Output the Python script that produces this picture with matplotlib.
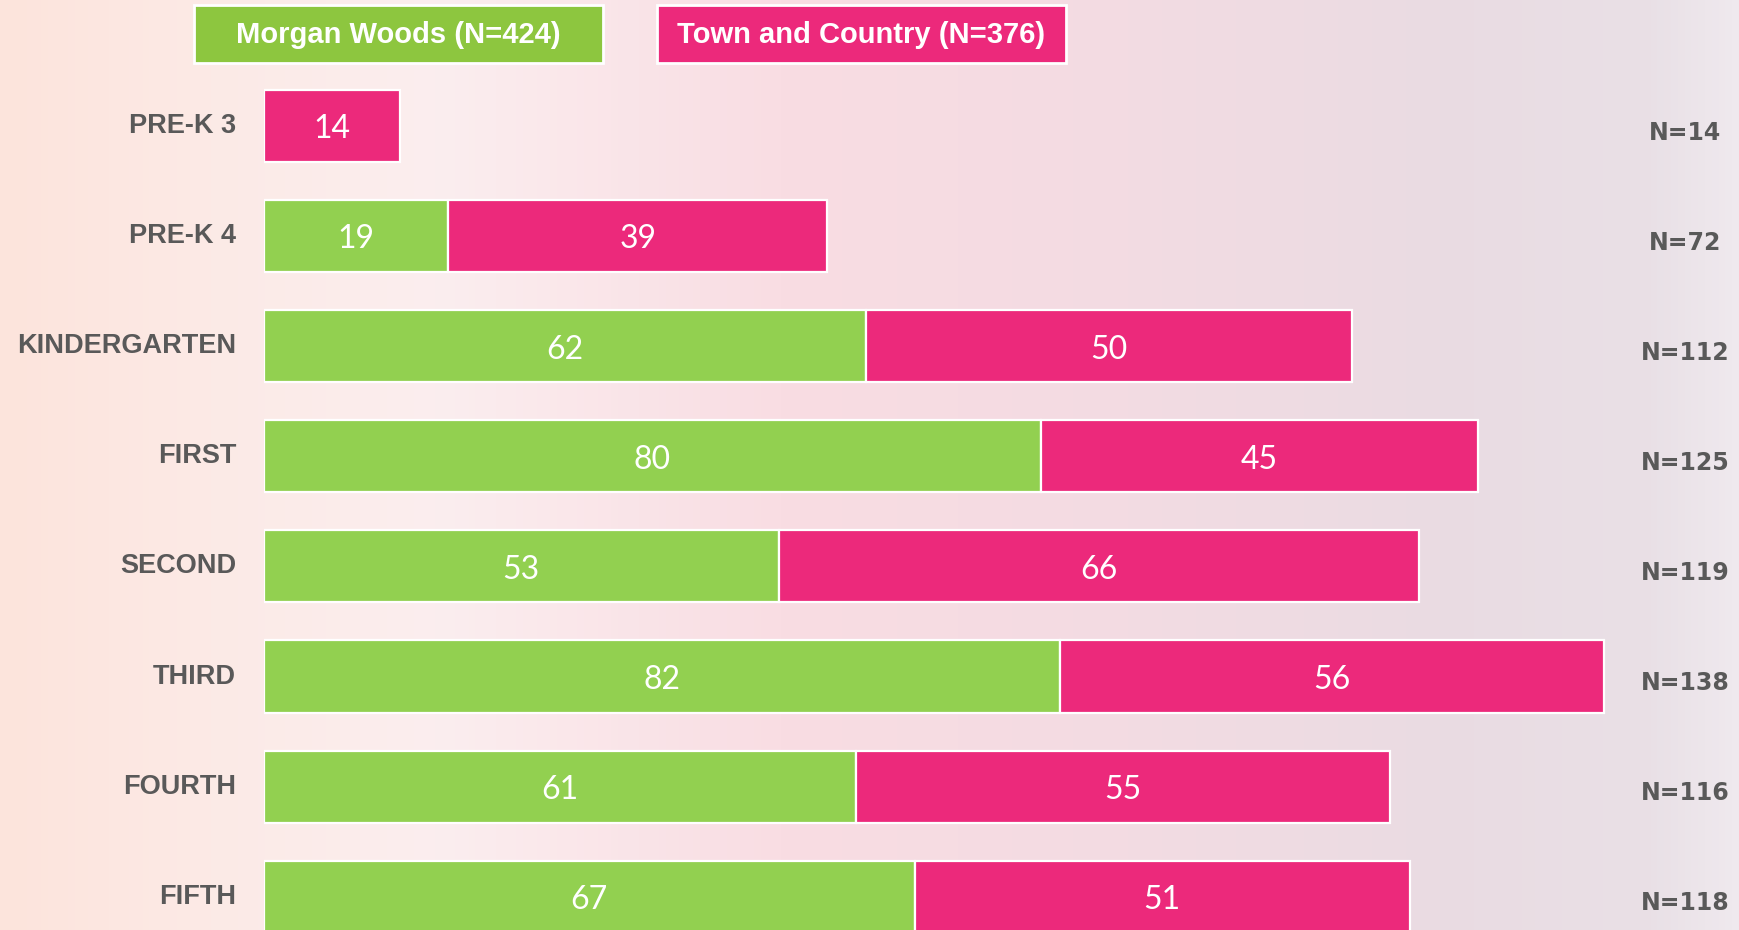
import numpy as np
import matplotlib.pyplot as plt
from matplotlib.patches import Rectangle
from matplotlib.colors import LinearSegmentedColormap

# Enrollment by grade, two schools
grades = ['PRE-K 3', 'PRE-K 4', 'KINDERGARTEN', 'FIRST', 'SECOND', 'THIRD', 'FOURTH', 'FIFTH']
morgan_woods = [0, 19, 62, 80, 53, 82, 61, 67]
town_country = [14, 39, 50, 45, 66, 56, 55, 51]
totals = [14, 72, 112, 125, 119, 138, 116, 118]
legend_labels = ['Morgan Woods (N=424)', 'Town and Country (N=376)']

GREEN = '#92D050'
GREEN_LEG = '#8DC63F'
PINK = '#EC297B'
GRAY = '#595959'
W, H = 1739, 930

label_font = ['Liberation Sans Narrow', 'Liberation Sans', 'DejaVu Sans']
value_font = ['Lato', 'DejaVu Sans']

fig = plt.figure(figsize=(W / 100, H / 100), dpi=100)

# background gradient
bg = fig.add_axes([0, 0, 1, 1])
bg_cmap = LinearSegmentedColormap.from_list('bg', [
    (0.0, '#FCE4DC'), (0.12, '#FCEAE6'), (0.25, '#FBEEEF'), (0.45, '#F9DDE3'),
    (0.65, '#F3DBE2'), (0.85, '#E9DCE3'), (0.95, '#E9E0E6'), (1.0, '#EFE9EE')])
bg.imshow(np.linspace(0, 1, 512)[None, :], aspect='auto', cmap=bg_cmap, extent=[0, 1, 0, 1])
bg.set_axis_off()

# main axes: x=0 at pixel 264, 9.71 px per student
x0 = 264
px_per = 9.71
ax = fig.add_axes([x0 / W, 0, 1 - x0 / W, 1])
ax.patch.set_alpha(0)
ax.set_xlim(0, (W - x0) / px_per)
top_c, step = 126, 110.1
ax.set_ylim((H - top_c) / step, -top_c / step)
ax.set_axis_off()

y = np.arange(len(grades))
mw = np.array(morgan_woods)
tc = np.array(town_country)
bh = 0.655

m = mw > 0
ax.barh(y[m], mw[m], height=bh, color=GREEN, edgecolor='white', linewidth=1.6)
ax.barh(y, tc, left=mw, height=bh, color=PINK, edgecolor='white', linewidth=1.6)

for i in range(len(grades)):
    if mw[i] > 0:
        ax.text(mw[i] / 2, y[i] + 0.03, str(mw[i]), ha='center', va='center', color='white',
                fontsize=23, family=value_font, fontweight='normal')
    ax.text(mw[i] + tc[i] / 2, y[i] + 0.03, str(tc[i]), ha='center', va='center', color='white',
            fontsize=23, family=value_font, fontweight='normal')
    ax.text(-28 / px_per, y[i], grades[i], ha='right', va='center', color=GRAY,
            fontsize=19.5, family=label_font, fontweight='bold')
    ax.text((1685 - x0) / px_per, y[i] + 0.06, 'N=%d' % totals[i], ha='center', va='center',
            color=GRAY, fontsize=17, family=['DejaVu Sans'], fontweight='bold')

# legend boxes at the top
for (lx, lw), col, txt in zip([(194, 409), (657, 409)], [GREEN_LEG, PINK], legend_labels):
    fig.add_artist(Rectangle((lx / W, 1 - 63 / H), lw / W, 57.5 / H, transform=fig.transFigure,
                             facecolor=col, edgecolor='white', linewidth=2))
    fig.text((lx + lw / 2) / W, 1 - 35 / H, txt, ha='center', va='center', color='white',
             fontsize=21, family=label_font, fontweight='bold')

fig.savefig('out.png', dpi=100)
